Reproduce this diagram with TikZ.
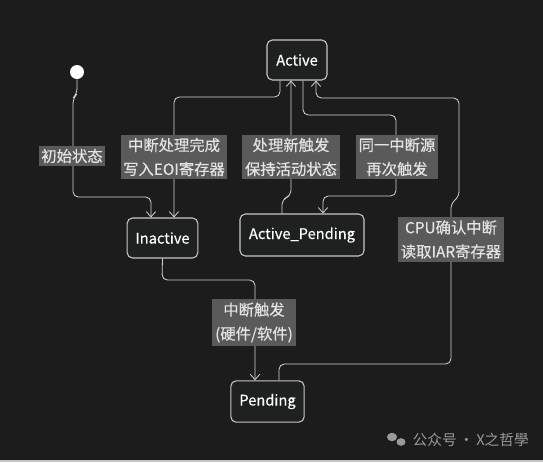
\documentclass[tikz,border=0pt]{standalone}
\usepackage{fontspec}
\setmainfont{Noto Sans CJK SC}
\newfontfamily\lblfont[FakeBold=0.35]{Noto Sans CJK SC}
\usetikzlibrary{arrows.meta,calc}
\definecolor{bg}{HTML}{1C1C1C}
\definecolor{nodefill}{HTML}{1F2121}
\definecolor{nodeline}{HTML}{C8C8C8}
\definecolor{lblfill}{HTML}{5A5A5A}
\definecolor{lbltext}{HTML}{E4E4E4}
\definecolor{edge}{HTML}{D6D6D6}
\definecolor{wm}{HTML}{9A9A9A}
\begin{document}
\begin{tikzpicture}[x=0.75pt,y=-0.75pt,
  state/.style={draw=nodeline, fill=nodefill, rounded corners=4pt, line width=0.8pt,
    text=white, font=\lblfont\fontsize{11}{13}\selectfont, inner sep=0pt},
  lbl/.style={fill=lblfill, text=lbltext, font=\lblfont\fontsize{11.5}{18}\selectfont,
    align=center, inner xsep=2pt, inner ysep=2.5pt},
  conn/.style={draw=edge, line width=0.6pt, rounded corners=4pt,
    -{Straight Barb[length=4pt,width=7pt]}}]
\fill[bg] (0,0) rectangle (543,462);
\useasboundingbox (0,0) rectangle (543,462);
\draw[wm!60, line width=0.8pt] (0,461) -- (543,461);

% states
\node[circle, fill=white, minimum size=10.5pt, inner sep=0pt] (start) at (77,72) {};
\node[state, minimum width=45pt, minimum height=30pt] (active) at (297,60) {Active};
\node[state, minimum width=53pt, minimum height=30pt] (inactive) at (162.5,238) {Inactive};
\node[state, minimum width=93pt, minimum height=31.5pt] (ap) at (302,235) {Active\_Pending};
\node[state, minimum width=55pt, minimum height=31pt] (pending) at (267.5,401.5) {Pending};

% connectors
\draw[conn] (start.south) -- (77,94) -- (73,98) -- (73,197) -- (151,197) -- ($(inactive.north)+(-11.5,0)$);
\draw[conn] ($(active.south)+(-17,0)$) -- (280,97) -- (174,97) -- ($(inactive.north)+(11.5,0)$);
\draw[conn] ($(ap.north)+(-20,0)$) -- (282,199) -- (291,196) -- ($(active.south)+(-6,0)$);
\draw[conn] ($(active.south)+(6,0)$) -- (303,115) -- (396,115) -- (396,196) -- (323,196) -- ($(ap.north)+(21,0)$);
\draw[conn] ($(pending.north)+(11.5,0)$) -- (279,364) -- (451,364) -- (451,203) -- (459,197) -- (459,98) -- (316,98) -- ($(active.south)+(19,0)$);
\draw[conn] (inactive.south) -- (162,280) -- (255,280) -- ($(pending.north)+(-12.5,0)$);

% labels
\node[lbl] (l1) at (72,156) {初始状态};
\node[lbl] (l2) at (174,157) {中断处理完成\\写入EOI寄存器};
\node[lbl] (l3) at (291,157) {处理新触发\\保持活动状态};
\node[lbl] (l4) at (397,157) {同一中断源\\再次触发};
\node[lbl] (l5) at (451,239.5) {CPU确认中断\\读取IAR寄存器};
\node[lbl] (l6) at (254,322.5) {中断触发\\(硬件/软件)};

% watermark
\fill[wm] (392,437) ellipse [x radius=5, y radius=4.2];
\fill[wm] (401,442) ellipse [x radius=4.5, y radius=3.8];
\node[text=wm, font=\fontsize{11}{13}\selectfont, anchor=west] (wmtext) at (408,440) {公众号\,·\,X之哲學};
\end{tikzpicture}
\end{document}
